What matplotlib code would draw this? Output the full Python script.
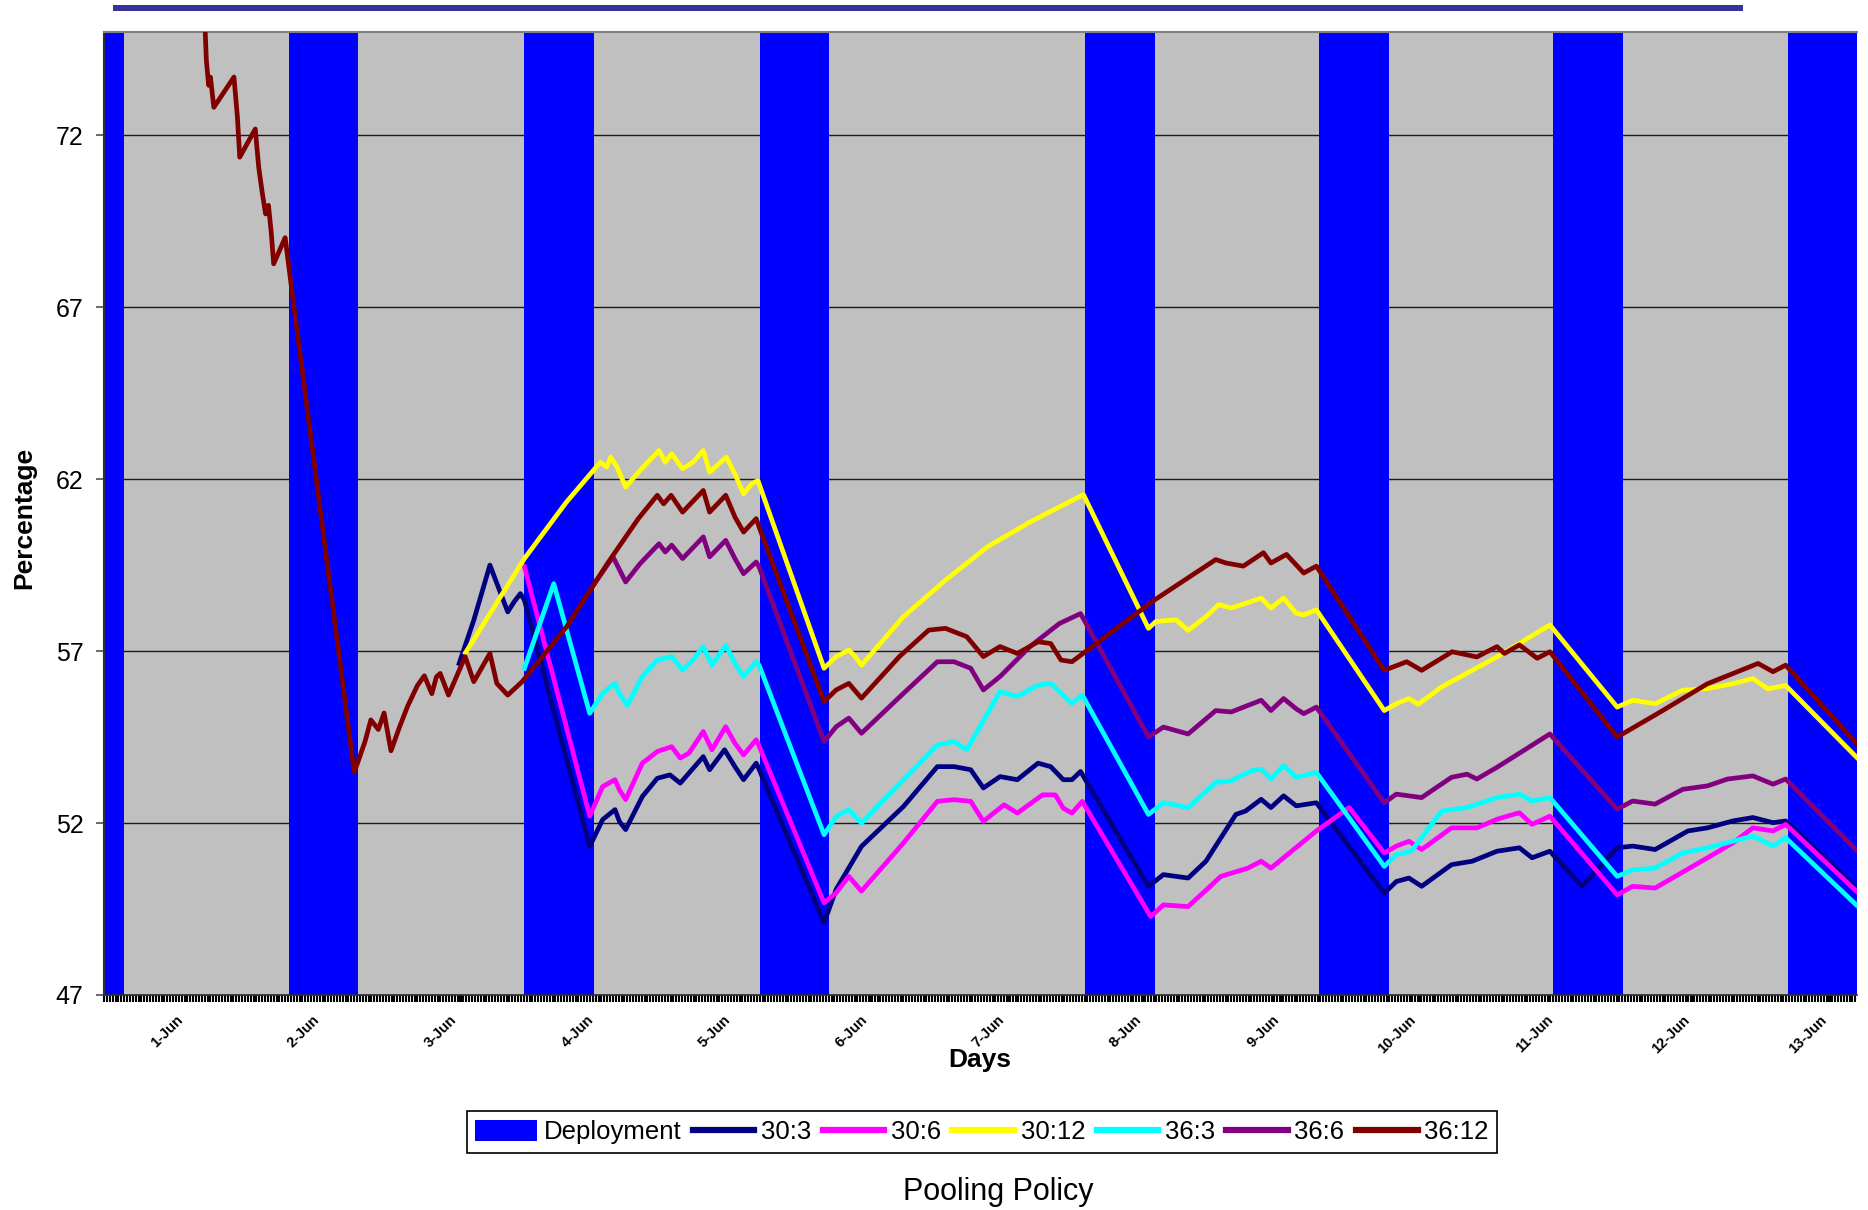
import matplotlib
matplotlib.use("Agg")
import matplotlib.pyplot as plt
from matplotlib.patches import Rectangle, Patch
from matplotlib.lines import Line2D
import numpy as np

plt.rcParams['font.family'] = ['Liberation Sans', 'DejaVu Sans']

# ---------------- data ----------------
deploy_start = [-9.0, 32.1, 73.1, 114.0, 170.5, 211.3, 252.0, 292.8]
deploy_end = [3.5, 44.1, 85.2, 126.0, 182.7, 223.4, 264.2, 304.8]
deploy_top = 75.0

day_labels = ["1-Jun", "2-Jun", "3-Jun", "4-Jun", "5-Jun", "6-Jun", "7-Jun",
              "8-Jun", "9-Jun", "10-Jun", "11-Jun", "12-Jun", "13-Jun"]
day_ticks = [14.2, 38.0, 61.8, 85.6, 109.5, 133.3, 157.1, 180.9, 204.8,
             228.6, 252.4, 276.2, 300.1]

h_3612 = [17.5, 17.6, 17.8, 18.2, 18.5, 19.1, 22.6, 23.2, 23.6, 26.3, 26.9, 27.5,
          28.1, 28.6, 29.1, 29.5, 31.5, 32.3, 32.9, 43.5, 44.1, 45.4, 46.4, 47.7,
          48.7, 49.9, 51.4, 52.8, 54.5, 55.7, 57.0, 57.8, 58.45, 59.9, 62.8, 64.3,
          67.1, 68.3, 70.2, 72.7, 80.4, 87.75, 92.9, 96.2, 97.3, 98.6, 100.6, 104.2,
          105.3, 108.1, 109.7, 111.2, 113.4, 113.9, 125.2, 127.3, 129.5, 131.7,
          138.3, 143.4, 146.3, 150.0, 152.9, 155.8, 158.8, 162.4, 164.6, 166.4,
          168.3, 182.7, 193.3, 195.1, 198.1, 201.6, 202.9, 205.6, 208.6, 210.8,
          222.6, 226.5, 229.1, 234.4, 238.7, 242.2, 243.5, 246.1, 249.2, 251.4,
          263.1, 270.1, 278.8, 287.6, 290.2, 292.4, 304.8]
v_3612 = [76.0, 75.0, 74.17, 73.45, 73.69, 72.81, 73.69, 72.52, 71.36, 72.18, 71.07,
          70.34, 69.71, 69.96, 69.13, 68.26, 69.02, 67.97, 67.19, 53.48, 53.75, 54.38,
          55.0, 54.72, 55.2, 54.1, 54.8, 55.4, 56.0, 56.28, 55.76, 56.25, 56.35, 55.72,
          56.84, 56.11, 56.93, 56.06, 55.72, 56.11, 57.7, 59.6, 60.85, 61.53, 61.28,
          61.53, 61.04, 61.67, 61.04, 61.53, 60.9, 60.46, 60.85, 60.61, 55.53, 55.87,
          56.06, 55.63, 56.84, 57.61, 57.66, 57.42, 56.84, 57.13, 56.93, 57.27, 57.22,
          56.74, 56.69, 58.49, 59.66, 59.56, 59.47, 59.86, 59.56, 59.81, 59.27, 59.47,
          56.44, 56.69, 56.44, 56.98, 56.83, 57.13, 56.93, 57.18, 56.79, 56.98, 54.50,
          55.18, 56.05, 56.64, 56.40, 56.59, 54.3]

h_303 = [61.75, 64.3, 67.1, 70.2, 71.3, 72.4, 73.1, 84.45, 86.7, 88.85, 89.6, 90.7,
         93.6, 96.2, 98.4, 100.2, 101.7, 104.2, 105.3, 107.9, 109.7, 111.2, 113.4,
         113.7, 125.2, 127.3, 131.7, 139.0, 144.9, 147.8, 150.7, 152.9, 155.8, 158.8,
         162.4, 164.6, 166.8, 168.3, 169.8, 181.6, 184.2, 188.5, 191.6, 196.8, 198.5,
         201.2, 202.9, 205.1, 207.3, 210.8, 222.6, 224.7, 226.9, 229.1, 234.3, 237.9,
         242.2, 246.1, 248.3, 251.4, 257.0, 263.1, 265.8, 269.7, 275.4, 278.8, 283.2,
         286.7, 290.2, 292.4, 304.8]
v_303 = [56.64, 57.9, 59.5, 58.14, 58.43, 58.67, 58.48, 51.32, 52.1, 52.39, 52.05,
         51.81, 52.77, 53.3, 53.4, 53.16, 53.45, 53.93, 53.55, 54.13, 53.64, 53.26,
         53.74, 53.64, 49.1, 50.07, 51.32, 52.48, 53.64, 53.64, 53.55, 53.02, 53.35,
         53.26, 53.74, 53.64, 53.26, 53.26, 53.5, 50.16, 50.5, 50.4, 50.89, 52.25,
         52.35, 52.69, 52.45, 52.79, 52.5, 52.59, 49.96, 50.3, 50.4, 50.16, 50.79,
         50.89, 51.18, 51.28, 50.99, 51.18, 50.16, 51.28, 51.33, 51.23, 51.77, 51.86,
         52.06, 52.16, 52.01, 52.06, 50.1]

h_306 = [73.1, 84.45, 86.7, 88.85, 89.6, 90.7, 93.6, 96.2, 98.7, 100.2, 101.7, 104.2,
         105.7, 108.1, 109.7, 111.2, 113.4, 113.7, 125.2, 127.3, 129.5, 131.7, 139.0,
         144.9, 147.8, 150.7, 152.9, 156.5, 158.8, 163.2, 165.4, 166.8, 168.3, 170.1,
         182.0, 184.2, 188.5, 194.2, 198.9, 201.2, 202.9, 210.8, 216.5, 222.6, 224.7,
         226.9, 229.1, 234.3, 238.7, 242.2, 246.1, 248.3, 251.4, 263.1, 265.8, 269.7,
         278.8, 283.2, 286.7, 290.2, 292.4, 304.8]
v_306 = [59.45, 52.2, 53.06, 53.26, 52.97, 52.68, 53.74, 54.08, 54.22, 53.89, 54.03,
         54.66, 54.13, 54.8, 54.32, 53.98, 54.42, 54.32, 49.68, 49.97, 50.45, 50.02,
         51.42, 52.63, 52.68, 52.63, 52.05, 52.53, 52.29, 52.82, 52.82, 52.43, 52.29,
         52.63, 49.28, 49.62, 49.57, 50.45, 50.69, 50.89, 50.69, 51.77, 52.45, 51.13,
         51.33, 51.47, 51.23, 51.86, 51.86, 52.11, 52.3, 51.96, 52.2, 49.91, 50.16,
         50.11, 50.99, 51.42, 51.86, 51.77, 51.96, 50.0]

h_3012 = [62.85, 73.1, 80.4, 86.3, 87.4, 88.1, 89.2, 90.7, 93.2, 96.5, 97.6, 98.7,
          100.6, 102.4, 104.2, 105.3, 108.2, 109.7, 111.2, 112.6, 113.7, 125.2, 127.3,
          129.5, 130.6, 131.7, 139.0, 146.3, 153.6, 161.0, 170.3, 181.6, 182.9, 186.4,
          188.5, 191.6, 193.8, 196.0, 201.2, 202.9, 205.1, 207.3, 208.6, 210.8, 222.6,
          224.7, 226.9, 228.5, 232.6, 242.2, 251.4, 263.1, 265.8, 269.7, 274.5, 278.8,
          283.2, 286.7, 289.3, 292.4, 304.8]
v_3012 = [56.95, 59.69, 61.33, 62.49, 62.35, 62.64, 62.35, 61.77, 62.25, 62.83, 62.49,
          62.74, 62.3, 62.49, 62.83, 62.2, 62.64, 62.15, 61.57, 61.86, 61.96, 56.5,
          56.84, 57.03, 56.84, 56.59, 58.0, 59.06, 60.03, 60.75, 61.55, 57.66, 57.86,
          57.91, 57.6, 58.0, 58.35, 58.25, 58.54, 58.25, 58.54, 58.1, 58.05, 58.2,
          55.27, 55.47, 55.62, 55.45, 55.96, 56.83, 57.76, 55.37, 55.57, 55.47, 55.86,
          55.91, 56.05, 56.2, 55.9, 56.0, 53.9]

h_363 = [73.1, 78.2, 84.45, 86.7, 88.85, 89.6, 91.0, 93.6, 96.2, 98.7, 100.6, 102.4,
         104.2, 105.7, 108.1, 109.7, 111.2, 113.4, 113.9, 125.2, 127.3, 129.5, 131.7,
         139.0, 144.9, 147.8, 150.0, 155.8, 158.8, 162.4, 164.6, 168.3, 170.1, 181.6,
         184.2, 188.5, 193.3, 196.0, 199.5, 201.2, 202.9, 205.1, 207.3, 210.8, 222.6,
         224.7, 227.3, 232.6, 237.0, 242.2, 246.1, 248.3, 251.4, 263.1, 265.8, 269.7,
         274.5, 278.8, 283.2, 286.7, 290.2, 292.4, 304.8]
v_363 = [56.5, 58.96, 55.19, 55.77, 56.06, 55.77, 55.43, 56.26, 56.74, 56.84, 56.45,
         56.74, 57.13, 56.59, 57.17, 56.64, 56.26, 56.69, 56.59, 51.66, 52.19, 52.39,
         52.0, 53.26, 54.27, 54.37, 54.13, 55.82, 55.68, 56.01, 56.06, 55.48, 55.72,
         52.25, 52.59, 52.45, 53.18, 53.23, 53.52, 53.57, 53.28, 53.67, 53.33, 53.47,
         50.74, 51.08, 51.18, 52.35, 52.45, 52.74, 52.84, 52.64, 52.74, 50.45, 50.64,
         50.69, 51.13, 51.28, 51.47, 51.62, 51.33, 51.57, 49.6]

h_366 = [84.8, 88.5, 90.7, 93.2, 96.5, 97.6, 98.7, 100.6, 104.2, 105.3, 108.1, 109.7,
         111.2, 113.4, 113.9, 125.2, 127.3, 129.5, 131.7, 139.0, 144.9, 147.8, 150.7,
         152.9, 155.8, 161.0, 166.1, 169.8, 181.6, 184.2, 188.5, 193.3, 196.0, 201.2,
         202.9, 205.1, 207.3, 208.6, 210.8, 222.6, 224.7, 229.1, 234.3, 237.0, 238.7,
         242.2, 251.4, 263.1, 265.8, 269.7, 274.5, 278.8, 282.3, 286.7, 290.2, 292.4,
         304.8]
v_366 = [58.85, 59.74, 59.01, 59.54, 60.12, 59.88, 60.08, 59.69, 60.32, 59.74, 60.22,
         59.69, 59.25, 59.59, 59.45, 54.37, 54.8, 55.05, 54.61, 55.77, 56.69, 56.69,
         56.5, 55.87, 56.26, 57.13, 57.8, 58.09, 54.5, 54.79, 54.59, 55.27, 55.23,
         55.57, 55.27, 55.62, 55.32, 55.18, 55.37, 52.59, 52.84, 52.74, 53.33, 53.42,
         53.28, 53.62, 54.59, 52.4, 52.64, 52.55, 52.98, 53.08, 53.28, 53.37, 53.13,
         53.28, 51.2]

series = [
    ("30:3", h_303, v_303, "#000080"),
    ("30:6", h_306, v_306, "#FF00FF"),
    ("30:12", h_3012, v_3012, "#FFFF00"),
    ("36:3", h_363, v_363, "#00FFFF"),
    ("36:6", h_366, v_366, "#800080"),
    ("36:12", h_3612, v_3612, "#800000"),
]

# ---------------- figure ----------------
W, H = 1868, 1210
fig = plt.figure(figsize=(W / 100, H / 100), dpi=100)
fig.patch.set_facecolor("white")

ax_l, ax_r, ax_t, ax_b = 104, 1857, 32, 995
ax = fig.add_axes([ax_l / W, 1 - ax_b / H, (ax_r - ax_l) / W, (ax_b - ax_t) / H])
ax.set_facecolor("#C0C0C0")

ymin = 47
ax.bar(deploy_start, [deploy_top - ymin] * len(deploy_start),
       width=[e - s for s, e in zip(deploy_start, deploy_end)],
       bottom=ymin, align="edge", color="#0000FF", linewidth=0, zorder=1)

for name, hx, vy, col in series:
    ax.plot(hx, vy, color=col, lw=3.4, zorder=3)

ax.set_xlim(0, 304.8)
ax.set_ylim(47, 75)
ax.set_yticks([47, 52, 57, 62, 67, 72])
ax.yaxis.grid(True, color="#1a1a1a", lw=1.0)
ax.set_axisbelow(True)

ax.set_xticks(day_ticks)
ax.set_xticklabels(day_labels, rotation=45, ha="right", va="top", fontsize=10.5,
                   fontweight="bold")
ax.set_xticks(np.arange(0, 305, 0.5), minor=True)
ax.tick_params(axis="x", which="both", direction="out", length=5, width=1.5,
               color="black", pad=8)
ax.tick_params(axis="y", direction="out", length=5.8, width=1.2, color="#505050",
               labelsize=18, pad=9)

ax.spines["top"].set_color("#808080")
ax.spines["top"].set_linewidth(1.5)
ax.spines["right"].set_visible(False)
ax.spines["left"].set_color("#303030")
ax.spines["left"].set_linewidth(1.5)
ax.spines["bottom"].set_color("#303030")
ax.spines["bottom"].set_linewidth(1.2)

# axis titles
fig.text(980 / W, 1 - 1060 / H, "Days", ha="center", va="center",
         fontsize=19, fontweight="bold")
fig.text(24 / W, 1 - 518 / H, "Percentage", ha="center", va="center",
         rotation=90, fontsize=19, fontweight="bold")
fig.text(998 / W, 1 - 1192 / H, "Pooling Policy", ha="center", va="center",
         fontsize=22)

# top decorative bar
fig.add_artist(Rectangle((113 / W, 1 - 11 / H), (1743 - 113) / W, 6 / H,
                         transform=fig.transFigure, color="#333399", lw=0))

# legend
handles = [Patch(facecolor="#0000FF", edgecolor="none", label="Deployment")]
for name, hx, vy, col in series:
    handles.append(Line2D([], [], color=col, lw=4.5, label=name))
leg = fig.legend(handles=handles, loc="center",
                 bbox_to_anchor=(982 / W, 1 - 1132 / H), ncol=7, fontsize=18.5,
                 frameon=True, fancybox=False, edgecolor="black", framealpha=1,
                 handlelength=2.4, handleheight=0.9, handletextpad=0.25,
                 columnspacing=0.45, borderpad=0.35, borderaxespad=0)
leg.get_frame().set_linewidth(1.2)

fig.savefig("out.png", dpi=100, facecolor="white")
